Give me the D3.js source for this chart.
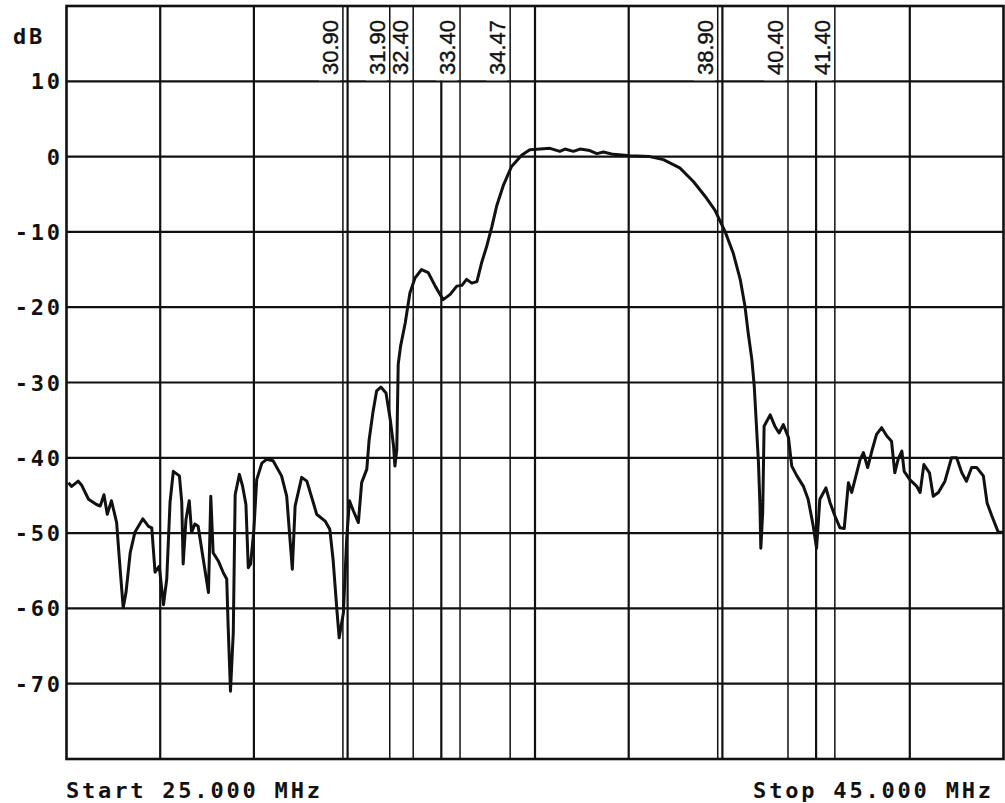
<!DOCTYPE html>
<html>
<head>
<meta charset="utf-8">
<script src="https://cdn.jsdelivr.net/npm/d3@7"></script>
<style>
  body { margin: 0; background: #fff; }
  svg { display: block; }
</style>
</head>
<body>
<div id="wrapper"></div>
<script>
// trace: frequency (MHz) and level (dB)
const freqs = [25.04, 25.11, 25.25, 25.32, 25.47, 25.64, 25.72, 25.80, 25.87, 25.96,
  26.07, 26.14, 26.21, 26.27, 26.36, 26.46, 26.63, 26.75, 26.82, 26.89,
  26.98, 27.07, 27.14, 27.21, 27.28, 27.41, 27.46, 27.49, 27.55, 27.62,
  27.67, 27.74, 27.81, 27.92, 28.03, 28.08, 28.13, 28.24, 28.35, 28.42,
  28.45, 28.50, 28.56, 28.60, 28.69, 28.76, 28.83, 28.88, 28.93, 29.00,
  29.06, 29.17, 29.27, 29.41, 29.59, 29.70, 29.77, 29.82, 29.88, 30.02,
  30.13, 30.27, 30.34, 30.52, 30.62, 30.69, 30.77, 30.82, 30.91, 30.98,
  31.04, 31.12, 31.23, 31.30, 31.41, 31.46, 31.54, 31.62, 31.71, 31.82,
  31.91, 31.98, 32.01, 32.05, 32.08, 32.13, 32.23, 32.33, 32.44, 32.58,
  32.72, 32.87, 33.04, 33.19, 33.33, 33.44, 33.54, 33.65, 33.76, 33.86,
  33.97, 34.08, 34.18, 34.32, 34.50, 34.72, 34.89, 35.11, 35.32, 35.53,
  35.64, 35.82, 35.96, 36.17, 36.32, 36.46, 36.67, 37.03, 37.45, 37.74,
  38.09, 38.38, 38.66, 38.84, 39.06, 39.23, 39.38, 39.48, 39.55, 39.63,
  39.68, 39.72, 39.77, 39.80, 39.82, 39.86, 39.89, 40.02, 40.12, 40.21,
  40.30, 40.41, 40.48, 40.59, 40.73, 40.83, 40.94, 41.01, 41.08, 41.21,
  41.30, 41.40, 41.51, 41.60, 41.69, 41.76, 41.85, 41.94, 42.01, 42.10,
  42.19, 42.29, 42.40, 42.51, 42.61, 42.68, 42.75, 42.83, 42.88, 43.00,
  43.15, 43.22, 43.30, 43.42, 43.50, 43.61, 43.75, 43.89, 44.00, 44.11,
  44.21, 44.32, 44.43, 44.57, 44.65, 44.75, 44.89, 45.00]
const levels = [-43.3, -43.8, -43.1, -43.6, -45.5, -46.2, -46.4, -44.9, -47.5, -45.7,
  -48.6, -54.4, -59.9, -57.9, -52.6, -49.9, -48.1, -49.1, -49.3, -55.2,
  -54.4, -59.5, -56.1, -45.9, -41.8, -42.4, -45.9, -54.1, -48.2, -45.7,
  -49.9, -48.8, -49.1, -53.5, -57.9, -45.1, -52.6, -53.7, -55.3, -56.1,
  -62.3, -71.0, -63.2, -44.9, -42.2, -43.8, -46.2, -54.6, -54.1, -49.5,
  -42.9, -40.7, -40.2, -40.4, -42.4, -45.1, -50.8, -54.8, -46.4, -42.6,
  -43.1, -46.0, -47.5, -48.4, -49.5, -53.5, -60.1, -63.9, -60.6, -50.8,
  -45.7, -47.0, -48.6, -43.3, -41.5, -37.6, -34.0, -31.1, -30.6, -31.4,
  -34.9, -38.4, -41.1, -38.9, -27.6, -25.2, -22.1, -18.1, -16.1, -15.0,
  -15.4, -17.2, -19.0, -18.3, -17.2, -17.1, -16.3, -16.8, -16.6, -14.1,
  -11.9, -9.3, -6.6, -3.9, -1.3, 0.2, 0.9, 1.0, 1.1, 0.7,
  1.0, 0.7, 1.0, 0.8, 0.4, 0.6, 0.3, 0.1, 0.0, -0.4,
  -1.5, -3.3, -5.5, -7.1, -10.0, -12.8, -16.3, -19.8, -23.4, -27.0,
  -30.5, -35.0, -40.7, -46.0, -52.0, -47.3, -35.8, -34.3, -35.8, -36.7,
  -35.6, -37.3, -41.1, -42.4, -43.8, -45.5, -49.1, -52.0, -45.5, -44.0,
  -46.0, -47.7, -49.3, -49.4, -43.3, -44.6, -42.4, -40.2, -39.3, -41.3,
  -39.1, -36.9, -36.0, -37.1, -37.8, -42.0, -40.2, -39.1, -41.8, -42.9,
  -43.8, -44.6, -40.9, -42.0, -45.1, -44.6, -43.1, -40.0, -40.0, -42.0,
  -43.1, -41.3, -41.3, -42.4, -46.0, -47.7, -49.9, -49.9]

const markers = [30.90, 31.90, 32.40, 33.40, 34.47, 38.90, 40.40, 41.40]
const markerLabels = ["30.90", "31.90", "32.40", "33.40", "34.47", "38.90", "40.40", "41.40"]
const xGrid = [27, 29, 31, 33, 35, 37, 39, 41, 43]
const yGrid = [10, 0, -10, -20, -30, -40, -50, -60, -70]
const yTickLabels = ["10", "0", "-10", "-20", "-30", "-40", "-50", "-60", "-70"]
const startLabel = "Start 25.000 MHz"
const stopLabel = "Stop 45.000 MHz"

function drawChart() {
    const dataset = freqs.map((f, i) => ({ freq: f, level: levels[i] }))
    const xAccessor = d => d.freq
    const yAccessor = d => d.level

    let dimensions = {
        width: 1005,
        height: 803,
        margin: { top: 6, right: 1.5, bottom: 44, left: 66.5 },
    }
    dimensions.boundedWidth = dimensions.width - dimensions.margin.left - dimensions.margin.right
    dimensions.boundedHeight = dimensions.height - dimensions.margin.top - dimensions.margin.bottom

    const wrapper = d3.select("#wrapper")
        .append("svg")
        .attr("width", dimensions.width)
        .attr("height", dimensions.height)

    const bounds = wrapper.append("g")
        .attr("transform", `translate(${dimensions.margin.left},${dimensions.margin.top})`)

    const xScale = d3.scaleLinear()
        .domain([25, 45])
        .range([0, dimensions.boundedWidth])
    const yScale = d3.scaleLinear()
        .domain([-80, 20])
        .range([dimensions.boundedHeight, 0])

    const monoFont = "'DejaVu Sans Mono', monospace"
    const fontSize = 22
    const spacing = 2.8

    // grid
    bounds.append("g").selectAll("line")
        .data(xGrid)
        .join("line")
        .attr("x1", d => xScale(d)).attr("x2", d => xScale(d))
        .attr("y1", 0).attr("y2", dimensions.boundedHeight)
        .attr("stroke", "#111").attr("stroke-width", 2.2)
    bounds.append("g").selectAll("line")
        .data(yGrid)
        .join("line")
        .attr("x1", 0).attr("x2", dimensions.boundedWidth)
        .attr("y1", d => yScale(d)).attr("y2", d => yScale(d))
        .attr("stroke", "#111").attr("stroke-width", 2.2)

    // marker labels sit on a white patch above the 10 dB line
    const labelGap = 5
    bounds.append("g").selectAll("rect")
        .data(markers)
        .join("rect")
        .attr("x", d => xScale(d) - labelGap - 19)
        .attr("y", 1)
        .attr("width", 21)
        .attr("height", yScale(10) - 2)
        .attr("fill", "#fff")

    bounds.append("g").selectAll("line")
        .data(markers)
        .join("line")
        .attr("x1", d => xScale(d)).attr("x2", d => xScale(d))
        .attr("y1", 0).attr("y2", dimensions.boundedHeight)
        .attr("stroke", "#111").attr("stroke-width", 1.5)

    bounds.append("g").selectAll("text")
        .data(markers)
        .join("text")
        .attr("transform", d => `translate(${xScale(d) - labelGap},69) rotate(-90)`)
        .attr("font-family", "'Liberation Sans', Arial, sans-serif")
        .attr("font-size", 22)
        .attr("stroke", "#111")
        .attr("stroke-width", 0.4)
        .attr("fill", "#111")
        .text((d, i) => markerLabels[i])

    // frame
    bounds.append("rect")
        .attr("width", dimensions.boundedWidth)
        .attr("height", dimensions.boundedHeight)
        .attr("fill", "none")
        .attr("stroke", "#111")
        .attr("stroke-width", 2.6)

    // trace
    const lineGenerator = d3.line()
        .x(d => xScale(xAccessor(d)))
        .y(d => yScale(yAccessor(d)))
    bounds.append("path")
        .datum(dataset)
        .attr("d", lineGenerator)
        .attr("fill", "none")
        .attr("stroke", "#111")
        .attr("stroke-width", 3)
        .attr("stroke-linejoin", "round")

    // y labels
    bounds.append("g").selectAll("text")
        .data(yGrid)
        .join("text")
        .attr("x", -6.5 + spacing)
        .attr("y", d => yScale(d) + 8)
        .attr("text-anchor", "end")
        .attr("font-family", monoFont)
        .attr("font-weight", "bold")
        .attr("font-size", fontSize)
        .attr("letter-spacing", spacing)
        .attr("fill", "#111")
        .text((d, i) => yTickLabels[i])

    wrapper.append("text")
        .attr("x", 13)
        .attr("y", 44)
        .attr("font-family", monoFont)
        .attr("font-weight", "bold")
        .attr("font-size", fontSize)
        .attr("letter-spacing", spacing)
        .attr("fill", "#111")
        .text("dB")

    wrapper.append("text")
        .attr("x", 66)
        .attr("y", 798)
        .attr("font-family", monoFont)
        .attr("font-weight", "bold")
        .attr("font-size", fontSize)
        .attr("letter-spacing", spacing)
        .attr("fill", "#111")
        .text(startLabel)

    wrapper.append("text")
        .attr("x", 991 + spacing)
        .attr("y", 798)
        .attr("text-anchor", "end")
        .attr("font-family", monoFont)
        .attr("font-weight", "bold")
        .attr("font-size", fontSize)
        .attr("letter-spacing", spacing)
        .attr("fill", "#111")
        .text(stopLabel)
}
drawChart()
</script>
</body>
</html>
